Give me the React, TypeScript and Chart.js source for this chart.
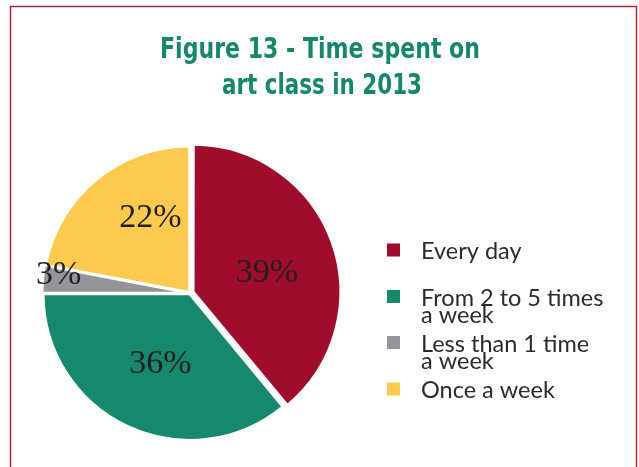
import React, { useEffect, useRef } from "react";
import { Chart, registerables } from "chart.js";

Chart.register(...registerables);

// ---- data ----
const categories = ["Every day", "From 2 to 5 times a week", "Less than 1 time a week", "Once a week"];
const legendLines = [["Every day"], ["From 2 to 5 times", "a week"], ["Less than 1 time", "a week"], ["Once a week"]];
const values = [39, 36, 3, 22];
const valueLabels = ["39%", "36%", "3%", "22%"];
const colors = ["#A00C2C", "#16896D", "#949599", "#FDC94F"];
const titleLines = ["Figure 13 - Time spent on", "art class in 2013"];

// label placement (style): fraction of radius, angle shift in degrees
const labelRadiusFrac = [0.55, 0.51, 0.91, 0.6];
const labelAngleShift = [3.4, -1.7, 3.6, 12.7];

const decorPlugin = {
  id: "decor",
  beforeDraw(chart: any) {
    const ctx = chart.ctx;
    ctx.save();
    ctx.fillStyle = "#ffffff";
    ctx.fillRect(0, 0, chart.width, chart.height);
    ctx.strokeStyle = "#B3203F";
    ctx.lineWidth = 1.5;
    ctx.strokeRect(10.5, 6.5, 626, 520);
    ctx.restore();
  },
  afterDraw(chart: any) {
    const ctx = chart.ctx;
    const area = chart.chartArea;
    const cx = (area.left + area.right) / 2;
    const cy = (area.top + area.bottom) / 2;
    ctx.save();
    // title
    ctx.fillStyle = "#17876C";
    ctx.textAlign = "center";
    ctx.textBaseline = "alphabetic";
    ctx.font = "bold 29px 'Liberation Sans Narrow', 'DejaVu Sans Condensed', 'Roboto', sans-serif";
    ctx.fillText(titleLines[0], 320, 58, 320);
    ctx.fillText(titleLines[1], 322, 94, 200);

    // slice labels
    const meta = chart.getDatasetMeta(0);
    ctx.fillStyle = "#231F20";
    ctx.font = "34px 'Liberation Serif', 'DejaVu Serif', serif";
    meta.data.forEach((arc: any, i: number) => {
      const p = arc.getProps(["startAngle", "endAngle", "outerRadius"], true);
      const mid = (p.startAngle + p.endAngle) / 2 + (labelAngleShift[i] * Math.PI) / 180;
      const r = p.outerRadius * labelRadiusFrac[i];
      const x = cx + Math.cos(mid) * r;
      const y = cy + Math.sin(mid) * r;
      ctx.fillText(valueLabels[i], x, y + 12);
    });

    // legend
    const boxX = 387;
    const textX = 421;
    const rowCenters = [250, 296.5, 342.5, 389];
    ctx.textAlign = "left";
    ctx.font = "23.5px 'Lato', 'Open Sans', sans-serif";
    legendLines.forEach((lines, i) => {
      ctx.fillStyle = colors[i];
      ctx.fillRect(boxX, rowCenters[i] - 6.5, 13, 13);
      ctx.fillStyle = "#2B2B2B";
      lines.forEach((ln, j) => {
        ctx.fillText(ln, textX, rowCenters[i] + 9 + j * 17);
      });
    });
    ctx.restore();
  },
};

export default function App() {
  const ref = useRef<HTMLCanvasElement | null>(null);
  useEffect(() => {
    document.body.style.margin = "0";
    const chart = new Chart(ref.current as HTMLCanvasElement, {
      type: "pie",
      data: {
        labels: categories,
        datasets: [
          {
            data: values,
            backgroundColor: colors,
            borderColor: "#ffffff",
            borderWidth: 2.5,
            offset: [14, 4, 4, 4],
          },
        ],
      },
      options: {
        animation: false,
        responsive: false,
        radius: 146,
        layout: { padding: { left: 40, right: 299, top: 143, bottom: 24 } },
        plugins: {
          legend: { display: false },
          tooltip: { enabled: false },
          title: { display: false },
        },
      } as any,
      plugins: [decorPlugin],
    });
    return () => chart.destroy();
  }, []);
  return (
    <div style={{ position: "absolute", left: 0, top: 0, width: 639, height: 467 }}>
      <canvas ref={ref} width={639} height={467} style={{ width: 639, height: 467, display: "block" }} />
    </div>
  );
}
